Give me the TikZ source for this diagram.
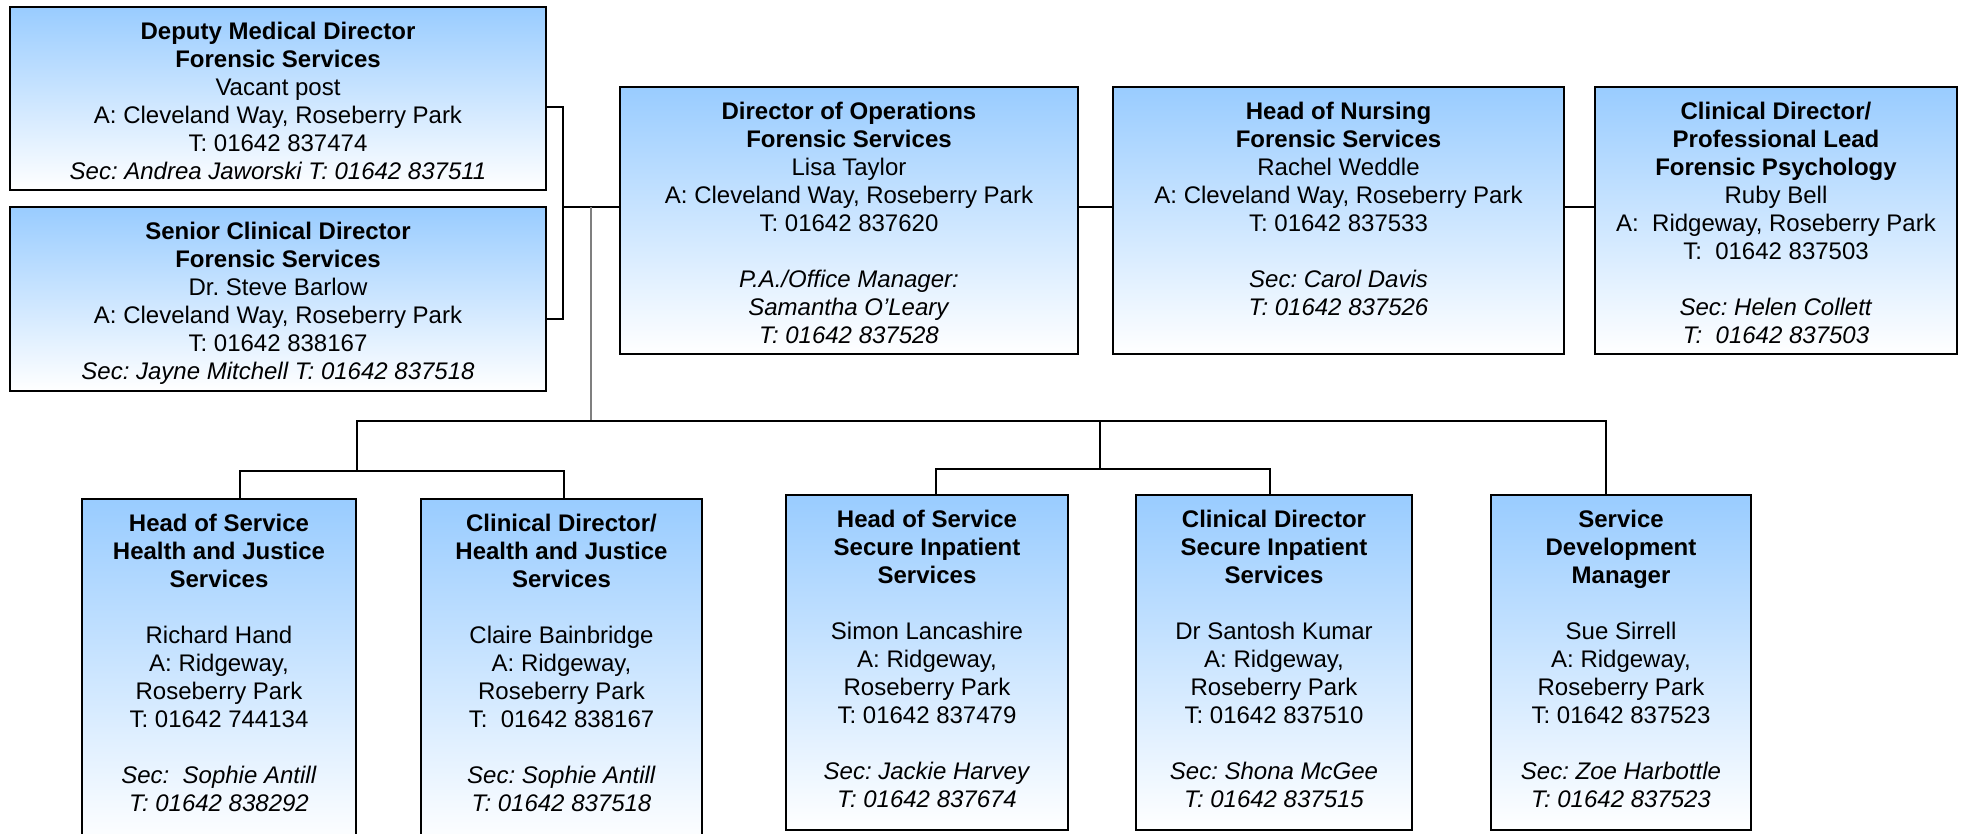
\documentclass[tikz,border=0pt]{standalone}
\usepackage{fontspec}
\setmainfont{Liberation Sans}
\frenchspacing
\definecolor{topblue}{HTML}{99CCFF}
\definecolor{trunkgrey}{HTML}{7F7F7F}
\tikzset{
  orgframe/.style={draw=black, line width=2.4pt, top color=topblue, bottom color=white, inner sep=0pt, outer sep=0pt, rectangle},
  orgtext/.style={align=center, inner sep=0pt, font=\fontsize{24}{28}\selectfont\frenchspacing, text=black},
  conn/.style={draw=black, line width=2pt, line join=miter},
  trunk/.style={draw=trunkgrey, line width=1.8pt}
}
\newcommand{\orgbox}[6]{%
  \node[orgframe, minimum width={#4-#2}, minimum height={#5-#3}] (#1) at ({(#2+#4)/2},{(#3+#5)/2}) {};
  \node[orgtext, anchor=north] (#1t) at ({(#2+#4)/2},{#3+14.5}) {#6};
}
\newcommand{\gap}{\\[28pt]}
\begin{document}
\begin{tikzpicture}[x=1pt,y=-1pt]
\useasboundingbox (0,0) rectangle (1967,833);

\orgbox{dmd}{10}{7}{546}{190}{\textbf{Deputy Medical Director}\\\textbf{Forensic Services}\\Vacant post\\A: Cleveland Way, Roseberry Park\\T: 01642 837474\\\textit{Sec: Andrea Jaworski T: 01642 837511}}
\orgbox{scd}{10}{207}{546}{391}{\textbf{Senior Clinical Director}\\\textbf{Forensic Services}\\Dr. Steve Barlow\\A: Cleveland Way, Roseberry Park\\T: 01642 838167\\\textit{Sec: Jayne Mitchell T: 01642 837518}}
\orgbox{doo}{620}{87}{1078}{354}{\textbf{Director of Operations}\\\textbf{Forensic Services}\\Lisa Taylor\\A: Cleveland Way, Roseberry Park\\T: 01642 837620\gap\textit{P.A./Office Manager:}\\\textit{Samantha O’Leary}\\\textit{T: 01642 837528}}
\orgbox{hon}{1113}{87}{1564}{354}{\textbf{Head of Nursing}\\\textbf{Forensic Services}\\Rachel Weddle\\A: Cleveland Way, Roseberry Park\\T: 01642 837533\gap\textit{Sec: Carol Davis}\\\textit{T: 01642 837526}}
\orgbox{cdpl}{1595}{87}{1957}{354}{\textbf{Clinical Director/}\\\textbf{Professional Lead}\\\textbf{Forensic Psychology}\\Ruby Bell\\A:~ Ridgeway, Roseberry Park\\T:~ 01642 837503\gap\textit{Sec: Helen Collett}\\\textit{T:~ 01642 837503}}

\orgbox{hshj}{82}{499}{356}{845}{\textbf{Head of Service}\\\textbf{Health and Justice}\\\textbf{Services}\gap Richard Hand\\A: Ridgeway,\\Roseberry Park\\T: 01642 744134\gap\textit{Sec:~ Sophie Antill}\\\textit{T: 01642 838292}}
\orgbox{cdhj}{421}{499}{702}{845}{\textbf{Clinical Director/}\\\textbf{Health and Justice}\\\textbf{Services}\gap Claire Bainbridge\\A: Ridgeway,\\Roseberry Park\\T:~ 01642 838167\gap\textit{Sec: Sophie Antill}\\\textit{T: 01642 837518}}
\orgbox{hssi}{786}{495}{1068}{830}{\textbf{Head of Service}\\\textbf{Secure Inpatient}\\\textbf{Services}\gap Simon Lancashire\\A: Ridgeway,\\Roseberry Park\\T: 01642 837479\gap\textit{Sec: Jackie Harvey}\\\textit{T: 01642 837674}}
\orgbox{cdsi}{1136}{495}{1412}{830}{\textbf{Clinical Director}\\\textbf{Secure Inpatient}\\\textbf{Services}\gap Dr Santosh Kumar\\A: Ridgeway,\\Roseberry Park\\T: 01642 837510\gap\textit{Sec: Shona McGee}\\\textit{T: 01642 837515}}
\orgbox{sdm}{1491}{495}{1751}{830}{\textbf{Service}\\\textbf{Development}\\\textbf{Manager}\gap Sue Sirrell\\A: Ridgeway,\\Roseberry Park\\T: 01642 837523\gap\textit{Sec: Zoe Harbottle}\\\textit{T: 01642 837523}}

% top connectors
\coordinate (a1) at (563,107);
\coordinate (a2) at (563,319);
\coordinate (a3) at (563,207);
\draw[conn] (dmd.east |- a1) -- (a1) -- (a2) -- (scd.east |- a2);
\draw[conn] (a3) -- (doo.west |- a3);
\draw[conn] (doo.east |- a3) -- (hon.west |- a3);
\draw[conn] (hon.east |- a3) -- (cdpl.west |- a3);

% trunk
\coordinate (t1) at (591,207);
\coordinate (t2) at (591,422);
\draw[trunk] (t1) -- (t2);

% bus
\coordinate (b1) at (357,421);
\coordinate (b2) at (1606,421);
\coordinate (l0) at (357,471);
\draw[conn] (l0) -- (b1) -- (b2) -- (sdm.north -| b2);

% left group
\coordinate (l1) at (240,471);
\coordinate (l2) at (564,471);
\draw[conn] (hshj.north -| l1) -- (l1) -- (l2) -- (cdhj.north -| l2);

% middle group
\coordinate (m0) at (1100,421);
\coordinate (m0b) at (1100,469);
\coordinate (m1) at (936,469);
\coordinate (m2) at (1270,469);
\draw[conn] (m0) -- (m0b);
\draw[conn] (hssi.north -| m1) -- (m1) -- (m2) -- (cdsi.north -| m2);
\end{tikzpicture}
\end{document}
